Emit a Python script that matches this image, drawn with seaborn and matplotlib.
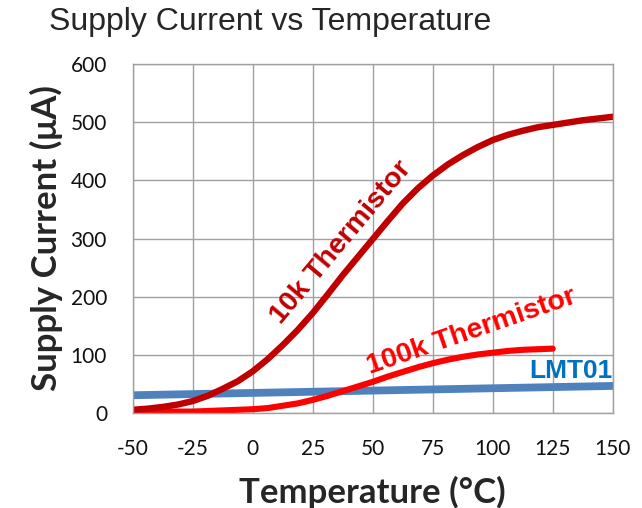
import numpy as np
import pandas as pd
import matplotlib
matplotlib.use('Agg')
import matplotlib.pyplot as plt
import seaborn as sns

# Данные
temp_10k = [-50, -43.75, -37.5, -31.25, -25, -18.75, -12.5, -6.25, 0, 6.25, 12.5, 18.75, 25, 31.25,
            37.5, 43.75, 50, 56.25, 62.5, 68.75, 75, 81.25, 87.5, 93.75, 100, 106.25, 112.5,
            118.75, 125, 131.25, 137.5, 143.75, 150]
current_10k = [6, 8, 11, 15, 21, 30, 42, 55, 72, 93, 117, 143, 172, 204,
               237, 268, 299, 330, 360, 386, 408, 427, 443, 457, 469, 478, 485,
               491, 495, 499, 503, 506, 509]

temp_100k = [-50, -43.75, -37.5, -31.25, -25, -18.75, -12.5, -6.25, 0, 6.25, 12.5, 18.75, 25, 31.25,
             37.5, 43.75, 50, 56.25, 62.5, 68.75, 75, 81.25, 87.5, 93.75, 100, 106.25, 112.5,
             118.75, 125]
current_100k = [2, 2, 3, 3, 3, 4, 5, 6, 7, 9, 13, 17, 23, 30,
                38, 46, 54, 63, 71, 79, 86, 92, 97, 101, 104, 107, 109,
                110, 111]

temp_lmt = [-50, 0, 50, 100, 150]
current_lmt = [31, 35, 39, 43, 47]

x_ticks = [-50, -25, 0, 25, 50, 75, 100, 125, 150]
y_ticks = [0, 100, 200, 300, 400, 500, 600]

sns.set_style('white')
plt.rcParams['font.family'] = ['Lato', 'DejaVu Sans']

df = pd.concat([
    pd.DataFrame({'temp': temp_lmt, 'current': current_lmt, 'sensor': 'LMT01'}),
    pd.DataFrame({'temp': temp_100k, 'current': current_100k, 'sensor': '100k Thermistor'}),
    pd.DataFrame({'temp': temp_10k, 'current': current_10k, 'sensor': '10k Thermistor'}),
])

colors = {'LMT01': '#4F81BD', '100k Thermistor': '#FF0000', '10k Thermistor': '#C00000'}
widths = {'LMT01': 5.6, '100k Thermistor': 4.4, '10k Thermistor': 4.6}

fig = plt.figure(figsize=(6.42, 5.08), dpi=100)
ax = fig.add_axes([0.2067, 0.1864, 0.7477, 0.6881])

for name in ['LMT01', '100k Thermistor', '10k Thermistor']:
    sns.lineplot(data=df[df['sensor'] == name], x='temp', y='current', color=colors[name],
                 linewidth=widths[name], solid_capstyle='round', solid_joinstyle='round',
                 ax=ax, legend=False)

ax.set_xlim(-50, 150)
ax.set_ylim(0, 600)
ax.set_xticks(x_ticks)
ax.set_yticks(y_ticks)
ax.set_xticklabels([str(t) for t in x_ticks])
ax.set_yticklabels([str(t) for t in y_ticks])
ax.tick_params(length=0, labelsize=15, colors='#111111')
ax.tick_params(axis='y', pad=18.5)
ax.tick_params(axis='x', pad=18.5)

ax.grid(True, color='#A0A0A0', linewidth=1.0)
ax.set_axisbelow(True)
for sp in ax.spines.values():
    sp.set_color('#A0A0A0')
    sp.set_linewidth(1.0)

ax.set_xlabel('Temperature (°C)', fontsize=25, fontweight='bold', va='top')
ax.xaxis.set_label_coords(0.5, -0.179)
ax.set_ylabel('Supply Current (μA)', fontsize=25, fontweight='bold')
ax.yaxis.set_label_coords(-0.145, 0.5)

ax.set_title('Supply Current vs Temperature', loc='left', x=-0.175, y=1.097, pad=0,
             fontsize=23, family='Liberation Sans')

# Подписи кривых
ax.text(36.7, 293, '10k Thermistor', color='#C00000', fontsize=20.5, fontweight='bold',
        family='Liberation Sans', rotation=50, ha='center', va='center', rotation_mode='anchor')
ax.text(91, 140, '100k Thermistor', color='#FF0000', fontsize=20.5, fontweight='bold',
        family='Liberation Sans', rotation=19, ha='center', va='center', rotation_mode='anchor')
ax.text(132.4, 72.5, 'LMT01', color='#0070C0', fontsize=19, fontweight='bold',
        family='Liberation Sans', ha='center', va='center')

fig.savefig('out.png', dpi=100)
